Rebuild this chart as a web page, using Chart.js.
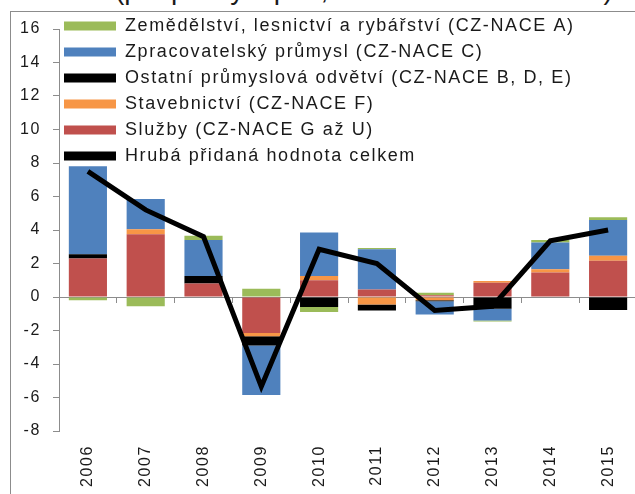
<!DOCTYPE html>
<html>
<head>
<meta charset="utf-8">
<script src="https://cdn.jsdelivr.net/npm/chart.js@4/dist/chart.umd.min.js"></script>
<style>
    html, body { margin: 0; padding: 0; overflow: hidden; background: #fff; }
    body { width: 635px; height: 494px; position: relative; }
    .frame {
        position: absolute; left: 10px; top: 11px; width: 700px; height: 600px;
        border: 1px solid #8c8c8c;
    }
    .title {
        position: absolute; left: 115px; top: -24px; white-space: nowrap;
        font: 28px/28px "Liberation Sans", Arial, sans-serif; color: #1a1a1a;
    }
    #chart { position: absolute; left: 0; top: 0; }
</style>
</head>
<body>
<div class="title">(příspěvky v p.b., meziroční změna v %)</div>
<div class="frame"></div>
<canvas id="chart" width="660" height="494"></canvas>
<script>
const years = ['2006', '2007', '2008', '2009', '2010', '2011', '2012', '2013', '2014', '2015'];

// příspěvky odvětví (p.b.)
const zemedelstvi = [-0.2, -0.55, 0.25, 0.5, -0.3, 0.07, 0.15, -0.07, 0.15, 0.16];
const zpracovatelsky = [5.25, 1.8, 2.15, -2.95, 2.6, 2.4, -0.8, -0.7, 1.6, 2.13];
const ostatniPrumysl = [0.25, 0, 0.45, -0.55, -0.6, -0.35, -0.05, -0.7, 0, -0.78];
const stavebnictvi = [0, 0.3, 0, -0.2, 0.25, -0.45, -0.2, 0.1, 0.18, 0.3];
const sluzby = [2.3, 3.75, 0.8, -2.15, 1.0, 0.45, 0.1, 0.85, 1.47, 2.17];
const hphCelkem = [7.5, 5.2, 3.6, -5.35, 2.85, 2.0, -0.8, -0.55, 3.35, 4.0];

const yMin = -8;
const yMax = 16;
const yStep = 2;

const FONT = '"Liberation Sans", Arial, sans-serif';
const AXIS = '#8c8c8c';
const TEXT = '#1a1a1a';

// legenda nahoře vlevo v rámečku (jako v Excelu), řidší písmo
const excelLook = {
    id: 'excelLook',
    afterLayout(chart) {
        const l = chart.legend;
        const h = l.bottom - l.top;
        l.left -= 3; l.right -= 3;
        l.top = 9; l.bottom = 9 + h;
    },
    beforeDraw(chart) {
        chart.ctx.letterSpacing = '1.6px';
    }
};

function barSet(label, data, color) {
    return {
        type: 'bar',
        label: label,
        data: data,
        backgroundColor: color,
        borderWidth: 0,
        stack: 'odvetvi',
        order: 1,
        categoryPercentage: 1,
        barPercentage: 0.66
    };
}

new Chart(document.getElementById('chart'), {
    data: {
        labels: years,
        datasets: [
            {
                type: 'line',
                label: 'Hrubá přidaná hodnota celkem',
                data: hphCelkem,
                borderColor: '#000',
                backgroundColor: '#000',
                borderWidth: 5,
                pointRadius: 0,
                tension: 0,
                stack: 'celkem',
                order: 0
            },
            barSet('Služby (CZ-NACE G až U)', sluzby, '#C0504D'),
            barSet('Stavebnictví (CZ-NACE F)', stavebnictvi, '#F79646'),
            barSet('Ostatní průmyslová odvětví (CZ-NACE B, D, E)', ostatniPrumysl, '#000000'),
            barSet('Zpracovatelský průmysl (CZ-NACE C)', zpracovatelsky, '#4F81BD'),
            barSet('Zemědělství, lesnictví a rybářství (CZ-NACE A)', zemedelstvi, '#9BBB59')
        ]
    },
    options: {
        responsive: false,
        animation: false,
        layout: { padding: { top: 29, right: 23, left: 0, bottom: 0 } },
        scales: {
            x: {
                type: 'category',
                position: 'bottom',
                grid: { display: false, drawTicks: false },
                border: { display: false },
                ticks: {
                    minRotation: 90,
                    maxRotation: 90,
                    autoSkip: false,
                    padding: 14,
                    color: TEXT,
                    font: { family: FONT, size: 16 }
                },
                afterFit(scale) { scale.height = 63; }
            },
            x2: {
                type: 'category',
                labels: years,
                position: { y: 0 },
                offset: true,
                grid: {
                    display: true,
                    offset: true,
                    drawOnChartArea: false,
                    drawTicks: true,
                    tickLength: 5,
                    color: AXIS
                },
                border: { display: true, color: AXIS, width: 1 },
                ticks: { display: false }
            },
            y: {
                stacked: true,
                min: yMin,
                max: yMax,
                grid: {
                    drawOnChartArea: false,
                    drawTicks: true,
                    tickLength: 6,
                    color: AXIS
                },
                border: { display: true, color: AXIS, width: 1 },
                ticks: {
                    stepSize: yStep,
                    padding: 12,
                    color: TEXT,
                    font: { family: FONT, size: 16 }
                },
                afterFit(scale) { scale.width = 59; }
            }
        },
        plugins: {
            legend: {
                position: 'chartArea',
                align: 'start',
                reverse: true,
                labels: {
                    boxWidth: 52,
                    boxHeight: 9,
                    padding: 8,
                    color: TEXT,
                    font: { family: FONT, size: 18 },
                    generateLabels(chart) {
                        const items = Chart.defaults.plugins.legend.labels.generateLabels(chart);
                        items.forEach(item => {
                            if (item.datasetIndex === 0) item.lineWidth = 0;
                        });
                        return items;
                    }
                }
            },
            tooltip: { enabled: false }
        }
    },
    plugins: [excelLook]
});
</script>
</body>
</html>
